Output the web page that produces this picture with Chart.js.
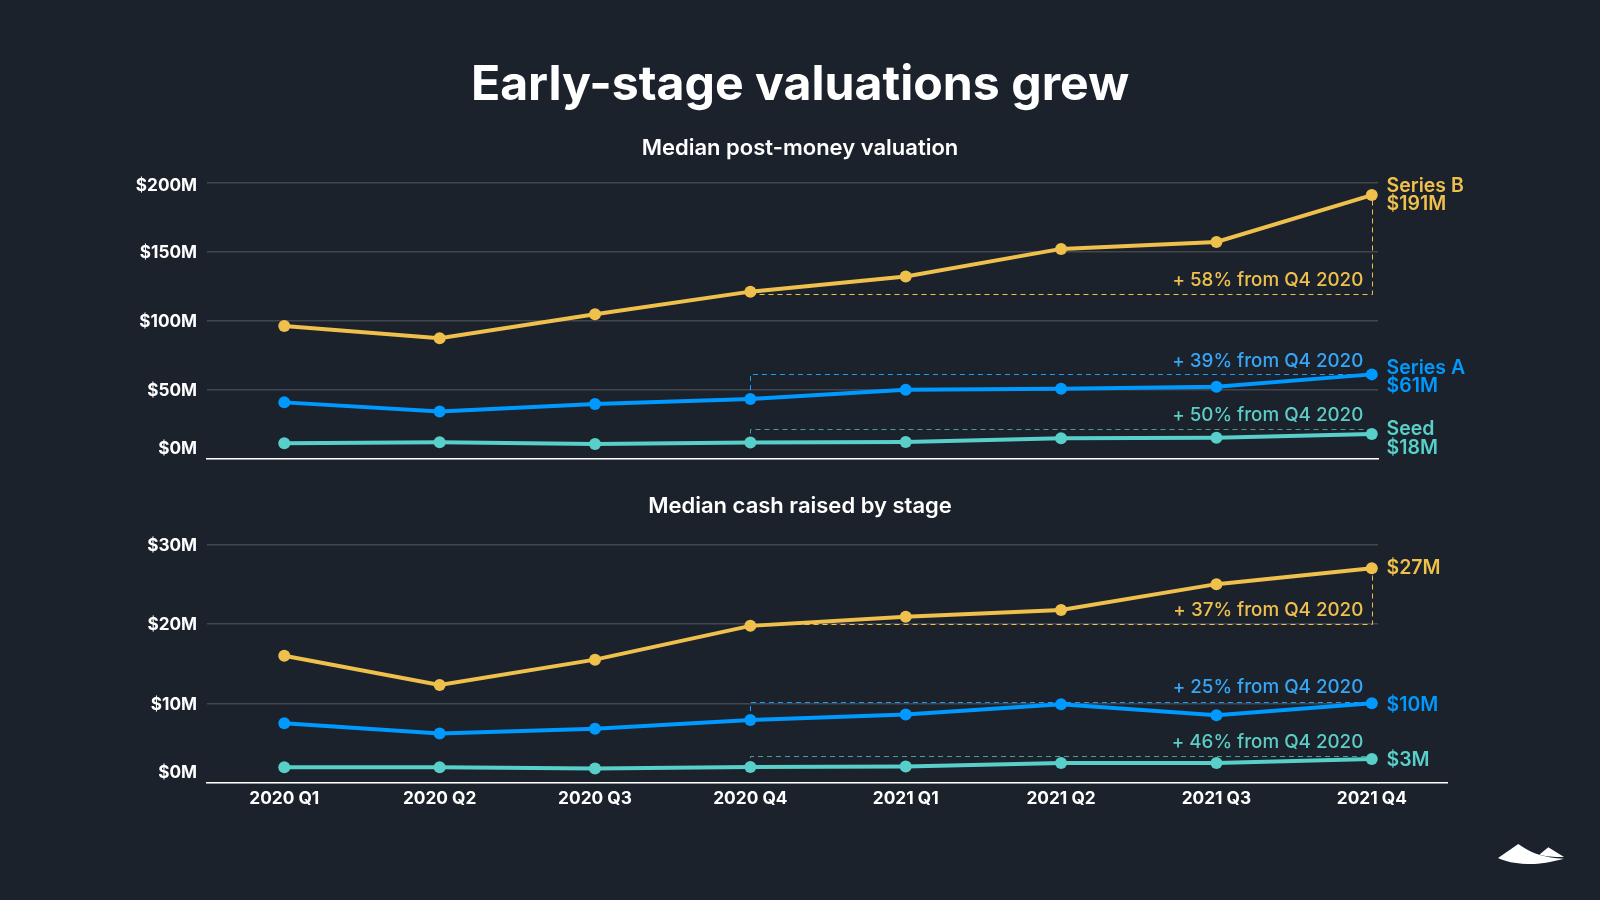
<!DOCTYPE html>
<html>
<head>
<meta charset="utf-8">
<script src="https://cdn.jsdelivr.net/npm/chart.js@4/dist/chart.umd.min.js"></script>
<style>
html,body{margin:0;padding:0;background:#1b222b;width:1600px;height:900px;overflow:hidden}
h1{position:absolute;left:0;top:51px;width:1600px;margin:0;text-align:center;color:#fff;font:700 48.2px/64px Inter,sans-serif}
canvas{position:absolute;left:0}
#logo{position:absolute;left:0;top:0}
</style>
</head>
<body>
<h1>Early-stage valuations grew</h1>
<canvas id="top"></canvas>
<canvas id="bottom"></canvas>
<svg id="logo" width="1600" height="900" viewBox="0 0 1600 900">
<path fill="#fff" d="M1498 858 L1518.3 844 C1528 851 1540 858 1564 858.7 C1550 862 1541 864 1530 864 C1518 864 1506 862 1498 858 Z"/>
<path fill="#fff" d="M1539.5 854.5 L1548.3 847.3 L1564 857 C1553 857 1545 856.5 1539.5 854.5 Z"/>
</svg>
<script>
const categories = ['2020 Q1','2020 Q2','2020 Q3','2020 Q4','2021 Q1','2021 Q2','2021 Q3','2021 Q4'];
const stages = ['Series B','Series A','Seed'];

const valuationSeriesB = [96, 87.2, 104.6, 121, 132, 152, 157, 191];
const valuationSeriesA = [40.7, 34, 39.5, 43.1, 49.8, 50.5, 52, 61];
const valuationSeed = [11, 11.7, 10.5, 11.6, 12, 14.6, 15, 17.8];
const valuationTicks = [0, 50, 100, 150, 200];
const valuationGuides = [119, 61, 21.5];
const valuationNotes = ['+ 58% from Q4 2020','+ 39% from Q4 2020','+ 50% from Q4 2020'];
const valuationEnds = [['Series B','$191M'],['Series A','$61M'],['Seed','$18M']];

const cashSeriesB = [16, 12.3, 15.5, 19.75, 20.9, 21.75, 25, 27];
const cashSeriesA = [7.5, 6.2, 6.8, 7.9, 8.6, 9.9, 8.5, 10];
const cashSeed = [1.96, 1.96, 1.8, 2.0, 2.05, 2.5, 2.5, 3.0];
const cashTicks = [0, 10, 20, 30];
const cashGuides = [20, 10.2, 3.35];
const cashNotes = ['+ 37% from Q4 2020','+ 25% from Q4 2020','+ 46% from Q4 2020'];
const cashEnds = [['$27M'],['$10M'],['$3M']];

const lineColors = ['#f0c04c','#0099ff','#58cfc9'];
const noteColors = ['#efc04e','#36a6f7','#5ccdc6'];
const guideColors = ['#f0c04c','#1e9cf5','rgba(88,207,201,.72)'];
const GRID = '#42474f';
const FF = 'Inter, sans-serif';
const X_MIN = -0.5, X_MAX = 7.04;
const AREA_LEFT = 206.6, RIGHT_GAP = 222;

function overlay(id, guides, notes, ends, endDy, noteDy, extendTo){
  return {
    id,
    beforeDatasetsDraw(chart){
      const {ctx, scales:{x,y}} = chart;
      ctx.save();
      if(extendTo){
        ctx.strokeStyle = '#fff'; ctx.lineWidth = 1.5;
        ctx.beginPath(); ctx.moveTo(chart.chartArea.right, chart.chartArea.bottom);
        ctx.lineTo(extendTo, chart.chartArea.bottom); ctx.stroke();
      }
      ctx.lineWidth = 1; ctx.setLineDash([5,4]);
      guides.forEach((g,i)=>{
        const ds = chart.data.datasets[i].data;
        const gy = Math.round(y.getPixelForValue(g))+.5;
        const xs = Math.round(x.getPixelForValue(3))+.5, xe = Math.round(x.getPixelForValue(7))+.5;
        ctx.strokeStyle = guideColors[i];
        ctx.beginPath();
        if(i===0){
          ctx.moveTo(xs,gy); ctx.lineTo(xe,gy);
          ctx.lineTo(xe,y.getPixelForValue(ds[7].y));
        }else{
          ctx.moveTo(xs,y.getPixelForValue(ds[3].y)); ctx.lineTo(xs,gy); ctx.lineTo(xe,gy);
        }
        ctx.stroke();
      });
      ctx.restore();
    },
    afterDatasetsDraw(chart){
      const {ctx, scales:{x,y}} = chart;
      ctx.save();
      ctx.textBaseline = 'middle';
      guides.forEach((g,i)=>{
        const px = x.getPixelForValue(7), ds = chart.data.datasets[i].data;
        ctx.fillStyle = noteColors[i];
        ctx.textAlign = 'right';
        ctx.font = '500 18.8px '+FF;
        ctx.fillText(notes[i], px-8.5, y.getPixelForValue(g)+noteDy[i]);
        ctx.fillStyle = lineColors[i];
        ctx.textAlign = 'left';
        ctx.font = '600 19.5px '+FF;
        const cy = y.getPixelForValue(ds[7].y)+endDy[i];
        const lh = 18.5, n = ends[i].length;
        ends[i].forEach((t,k)=>ctx.fillText(t, px+14.7, cy+(k-(n-1)/2)*lh));
      });
      ctx.restore();
    }
  };
}

function makeChart(cfg){
  const el = document.getElementById(cfg.id);
  el.style.top = cfg.top+'px';
  el.style.width='1600px'; el.style.height=cfg.height+'px';
  el.width=1600; el.height=cfg.height;
  return new Chart(el,{
    type:'line',
    data:{datasets:stages.map((s,i)=>({
      label:s,
      data:cfg.series[i].map((v,k)=>({x:k,y:v})),
      borderColor:lineColors[i],backgroundColor:lineColors[i],
      borderWidth:4,pointRadius:6,pointHoverRadius:6,pointBorderWidth:0,
      tension:0,clip:false,xAxisID:'x',yAxisID:'y'
    }))},
    options:{
      responsive:false,animation:false,devicePixelRatio:1,
      layout:{padding:cfg.padding},
      plugins:{
        legend:{display:false},tooltip:{enabled:false},
        title:{display:true,text:cfg.title,color:'#fff',
          font:{family:FF,size:22,weight:'600',lineHeight:1.2},padding:cfg.titlePadding}
      },
      scales:{
        x:{type:'linear',min:X_MIN,max:X_MAX,
          grid:{display:false,drawTicks:false},
          border:{display:true,color:'#fff',width:1.5},
          afterBuildTicks(s){s.ticks=categories.map((_,i)=>({value:i}));},
          ticks:{display:cfg.showX,autoSkip:false,maxRotation:0,padding:cfg.xPad,color:'#fff',
            font:{family:FF,size:17.3,weight:'700'},
            callback:v=>categories[v]}
        },
        y:{type:'linear',position:'left',min:0,max:cfg.ticks[cfg.ticks.length-1],
          afterBuildTicks(s){s.ticks=cfg.ticks.map(v=>({value:v}));},
          afterFit(s){s.width=AREA_LEFT;},
          grid:{color:GRID,lineWidth:1.5,drawTicks:false},
          border:{display:false},
          ticks:{padding:9.5,color:'#fff',labelOffset:1,
            font:c=>({family:FF,size:17.2,weight:'700',
              lineHeight:c.tick&&c.tick.value===0?'22px':(c.tick&&c.tick.value===200?'4px':'20px')}),
            callback:v=>{const t='$'+v+'M';
              if(v===0)return [t,''];
              if(v===200)return ['',t];
              return t;}
          }
        },
        gutter:{type:'linear',axis:'y',position:'right',min:0,max:1,
          afterFit(s){s.width=RIGHT_GAP;},
          grid:{display:false,drawTicks:false},border:{display:false},ticks:{display:false}}
      }
    },
    plugins:[overlay(cfg.id+'Overlay',cfg.guides,cfg.notes,cfg.ends,cfg.endDy,cfg.noteDy,cfg.extendTo)]
  });
}

makeChart({id:'top',top:120,height:370,title:'Median post-money valuation',
  series:[valuationSeriesB,valuationSeriesA,valuationSeed],ticks:valuationTicks,
  guides:valuationGuides,notes:valuationNotes,ends:valuationEnds,
  endDy:[0,3,4.5],noteDy:[-14.3,-13.3,-13.5],
  padding:{left:0,right:0,top:0,bottom:9.5},titlePadding:{top:15,bottom:21.3},showX:false,xPad:0});
makeChart({id:'bottom',top:480,height:370,title:'Median cash raised by stage',
  series:[cashSeriesB,cashSeriesA,cashSeed],ticks:cashTicks,
  guides:cashGuides,notes:cashNotes,ends:cashEnds,
  endDy:[-0.5,2,1.5],noteDy:[-14,-14,-13.7],extendTo:1448,
  padding:{left:0,right:0,top:0,bottom:35.4},titlePadding:{top:13,bottom:25},showX:true,xPad:5.5});
</script>
</body>
</html>
